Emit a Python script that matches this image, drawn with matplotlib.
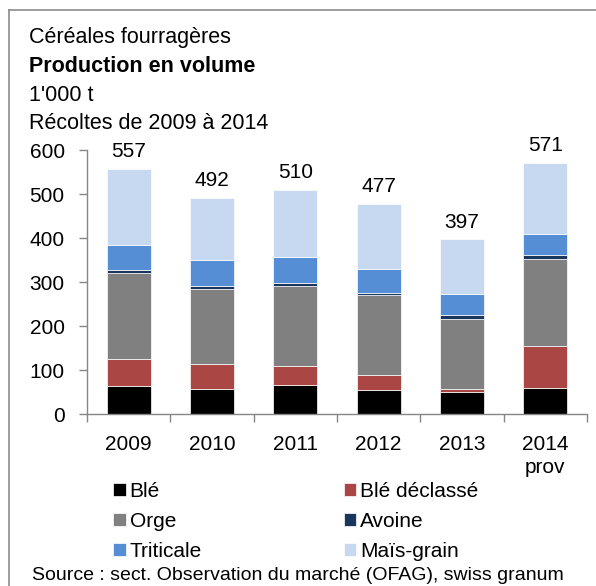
import matplotlib.pyplot as plt
import numpy as np
from matplotlib.lines import Line2D

plt.rc("font", family=["Liberation Sans", "DejaVu Sans"])

years = ["2009", "2010", "2011", "2012", "2013", "2014\nprov"]
ble = [64, 56, 67, 54, 51, 58]
ble_declasse = [60, 58, 43, 34, 5, 97]
orge = [196, 171, 182, 182, 160, 198]
avoine = [8, 7, 6, 6, 8, 8]
triticale = [55, 57, 59, 54, 49, 49]
mais_grain = [174, 143, 153, 147, 124, 161]
totals = [557, 492, 510, 477, 397, 571]

series = [
    ("Blé", ble, "#000000"),
    ("Blé déclassé", ble_declasse, "#AA4643"),
    ("Orge", orge, "#808080"),
    ("Avoine", avoine, "#1B365D"),
    ("Triticale", triticale, "#558ED5"),
    ("Maïs-grain", mais_grain, "#C6D9F1"),
]

FS = 15

W, H = 596, 586
fig = plt.figure(figsize=(W / 100, H / 100), dpi=100)
ax = fig.add_axes([87 / W, 1 - 414 / H, 500 / W, 264 / H])

x = np.arange(len(years))
bottom = np.zeros(len(years))
for label, vals, color in series:
    ax.bar(x, vals, width=0.53, bottom=bottom, color=color, label=label,
           edgecolor="white", linewidth=0.5)
    bottom += np.array(vals)

for xi, t in zip(x, totals):
    ax.annotate(str(t), (xi, t), xytext=(0, 8.5), textcoords="offset points",
                ha="center", va="baseline", fontsize=FS)

ax.set_xlim(-0.5, len(years) - 0.5)
ax.set_ylim(0, 600)
ax.set_yticks(range(0, 601, 100))
ax.set_xticks(np.arange(-0.5, len(years)), labels=[""] * (len(years) + 1))
ax.set_xticks(x, labels=years, minor=True)
ax.tick_params(axis="x", which="major", length=6, color="#868686", width=1)
ax.tick_params(axis="x", which="minor", length=0, pad=15, labelsize=FS)
for lab in ax.get_xticklabels(minor=True):
    lab.set_linespacing(1.25)
ax.tick_params(axis="y", length=6, color="#868686", width=1, labelsize=FS, pad=10)
for s in ["top", "right"]:
    ax.spines[s].set_visible(False)
for s in ["left", "bottom"]:
    ax.spines[s].set_color("#868686")
    ax.spines[s].set_linewidth(1)

# title block
tx = 29 / W
fig.text(tx, 1 - 42.7 / H, "Céréales fourragères", fontsize=15.5, va="baseline")
fig.text(tx, 1 - 71.7 / H, "Production en volume", fontsize=15.5, va="baseline",
         weight="bold")
fig.text(tx, 1 - 100.7 / H, "1'000 t", fontsize=15.5, va="baseline")
fig.text(tx, 1 - 129.3 / H, "Récoltes de 2009 à 2014", fontsize=15.5, va="baseline")

# legend, filled column-wise
handles, labels = ax.get_legend_handles_labels()
order = [0, 2, 4, 1, 3, 5]
fig.legend([handles[i] for i in order], [labels[i] for i in order],
           loc="upper left", bbox_to_anchor=(113 / W, 1 - 482 / H), ncol=2,
           frameon=False, fontsize=FS, handlelength=0.6, handleheight=0.6,
           handletextpad=0.2, columnspacing=6.8, labelspacing=0.52,
           borderpad=0, borderaxespad=0)

fig.text(0.5, 1 - 575 / H,
         "Source : sect. Observation du marché (OFAG), swiss granum",
         fontsize=14, ha="center", va="center")

# frame lines on the left and top edge
fig.add_artist(Line2D([9 / W, 9 / W], [0, 1 - 10 / H], color="#8C8C8C", lw=1.2,
                      transform=fig.transFigure))
fig.add_artist(Line2D([9 / W, 1], [1 - 10 / H, 1 - 10 / H], color="#8C8C8C",
                      lw=1.2, transform=fig.transFigure))

fig.savefig("out.png", dpi=100)
